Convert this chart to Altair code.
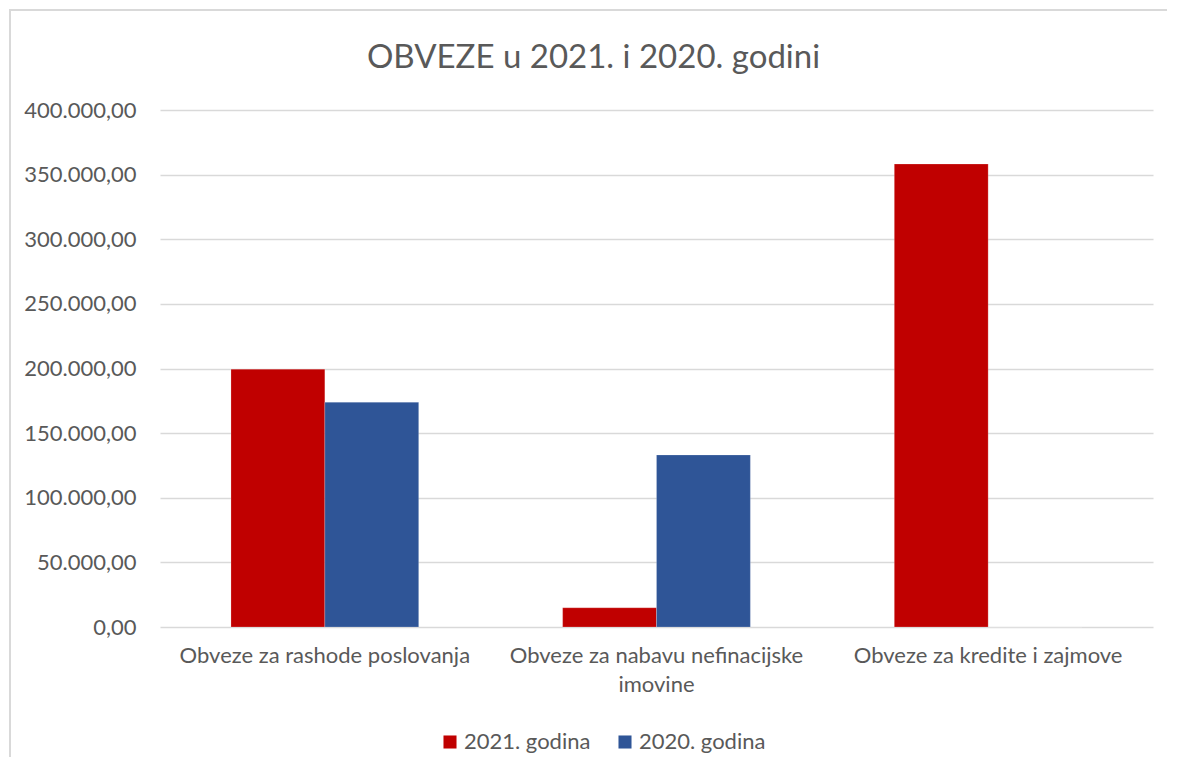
import altair as alt
import pandas as pd

categories = ["Obveze za rashode poslovanja",
              "Obveze za nabavu nefinacijske imovine",
              "Obveze za kredite i zajmove"]
series = ["2021. godina", "2020. godina"]
values_2021 = [199500, 14900, 358200]
values_2020 = [173900, 133100, 0]
colors = ["#C00000", "#2F5597"]

rows = []
for c, a, b in zip(categories, values_2021, values_2020):
    rows.append({"kategorija": c, "godina": series[0], "iznos": a})
    rows.append({"kategorija": c, "godina": series[1], "iznos": b})
df = pd.DataFrame(rows)

W, H = 993, 517
FONT = "Lato"
GRAY = "#595959"

label_expr = ("datum.label == 'Obveze za nabavu nefinacijske imovine' ? "
              "['Obveze za nabavu nefinacijske', 'imovine'] : datum.label")

bars = alt.Chart(df).mark_bar(stroke="white", strokeWidth=0.5, strokeOpacity=0.4).encode(
    x=alt.X("kategorija:N", sort=categories, title=None,
            scale=alt.Scale(paddingInner=0.434, paddingOuter=0.214),
            axis=alt.Axis(labelAngle=0, labelFont=FONT, labelFontSize=22,
                          labelColor=GRAY, labelPadding=18, ticks=False,
                          domain=False, labelExpr=label_expr,
                          labelLineHeight=29, labelLimit=400)),
    xOffset=alt.XOffset("godina:N", sort=series,
                        scale=alt.Scale(paddingInner=0, paddingOuter=0)),
    y=alt.Y("iznos:Q", title=None,
            scale=alt.Scale(domain=[0, 400000], nice=False),
            axis=alt.Axis(values=[0, 50000, 100000, 150000, 200000, 250000,
                                  300000, 350000, 400000],
                          format=",.2f", labelFont=FONT, labelFontSize=22,
                          labelColor=GRAY, labelPadding=24, ticks=False,
                          domain=False, grid=True, gridColor="#D9D9D9",
                          gridWidth=1.5)),
    color=alt.Color("godina:N", sort=series, title=None,
                    scale=alt.Scale(domain=series, range=colors),
                    legend=alt.Legend(orient="none", legendX=279, legendY=621,
                                      direction="horizontal", symbolType="square",
                                      symbolSize=170, symbolStrokeWidth=0,
                                      labelFont=FONT, labelFontSize=22,
                                      labelColor=GRAY, columnPadding=23,
                                      symbolOffset=0, labelOffset=3)),
)

border = alt.Chart(alt.Data(values=[{}])).mark_rect(
    fill=None, stroke="#D9D9D9", strokeWidth=2
).encode(
    x=alt.value(-150), x2=alt.value(W + 100),
    y=alt.value(-100), y2=alt.value(H + 200),
)

chart = alt.layer(border, bars).properties(
    width=W, height=H,
    title=alt.TitleParams("OBVEZE u 2021. i 2020. godini", font=FONT,
                          fontSize=33, fontWeight="normal", color=GRAY,
                          anchor="middle", dx=-63, dy=66, offset=0),
    autosize=alt.AutoSizeParams(type="none"),
    padding={"left": 152, "top": 102, "right": 14, "bottom": 130},
).configure_view(stroke=None)

chart.save("out.html", embed_options={
    "renderer": "svg", "actions": False,
    "formatLocale": {"decimal": ",", "thousands": ".", "grouping": [3],
                     "currency": ["", ""]},
})
